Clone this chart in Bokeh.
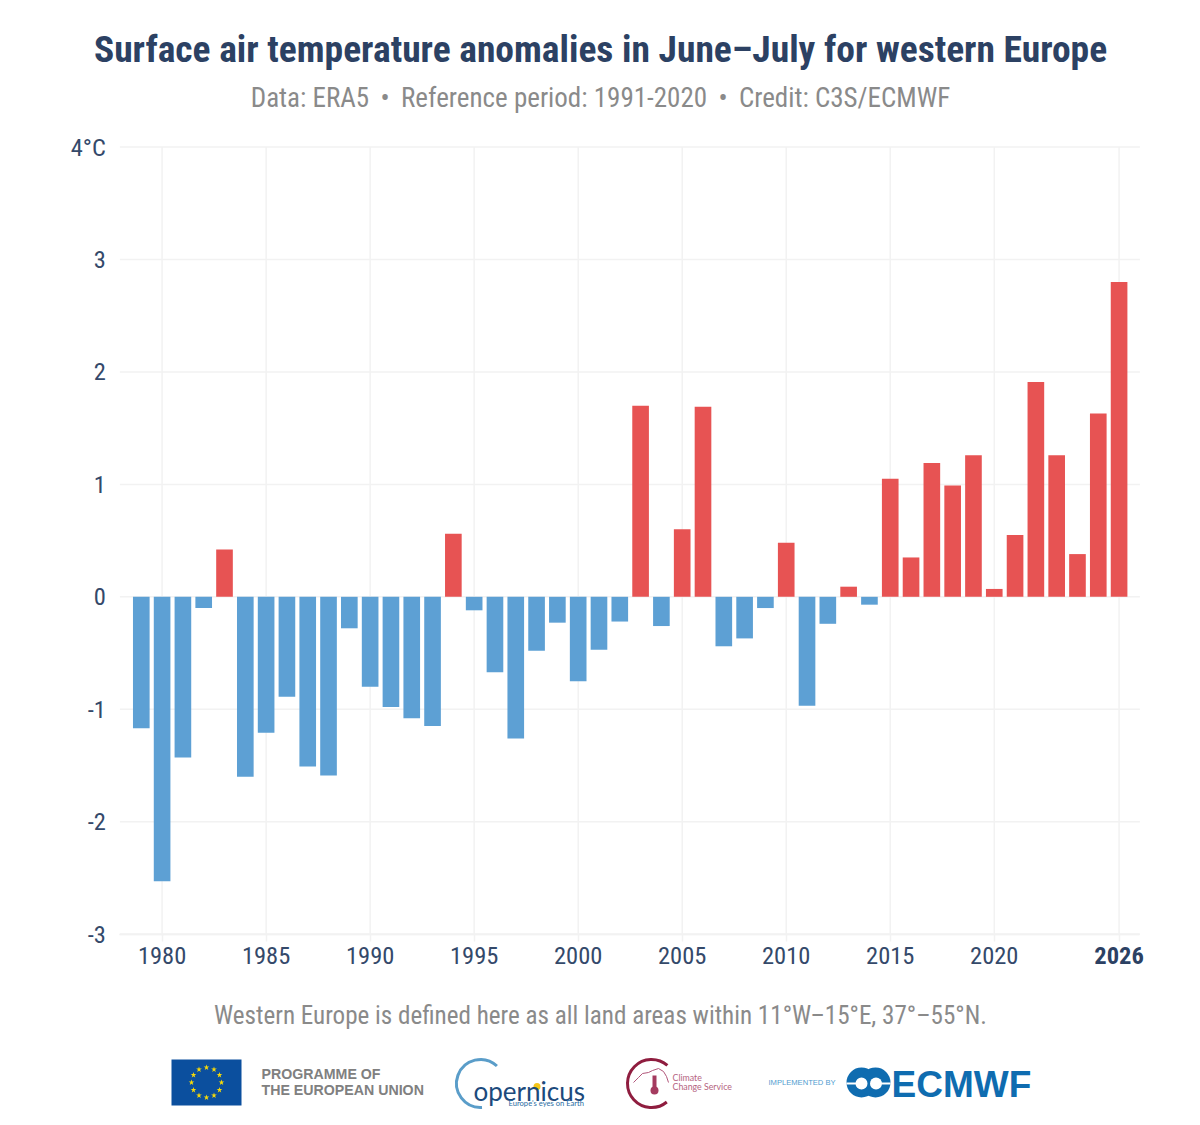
from bokeh.plotting import figure
from bokeh.models import Range1d, FixedTicker, LinearAxis
from bokeh.core.properties import value
from bokeh.embed import file_html
from bokeh.resources import INLINE
import numpy as np

years = list(range(1979, 2027))
anomalies = [-1.17, -2.53, -1.43, -0.10, 0.42, -1.60, -1.21, -0.89, -1.51, -1.59,
             -0.28, -0.80, -0.98, -1.08, -1.15, 0.56, -0.12, -0.67, -1.26, -0.48,
             -0.23, -0.75, -0.47, -0.22, 1.70, -0.26, 0.60, 1.69, -0.44, -0.37,
             -0.10, 0.48, -0.97, -0.24, 0.09, -0.07, 1.05, 0.35, 1.19, 0.99,
             1.26, 0.07, 0.55, 1.91, 1.26, 0.38, 1.63, 2.80]
x_tick_years = [1980, 1985, 1990, 1995, 2000, 2005, 2010, 2015, 2020]
x_last_year = [2026]
y_ticks = [-3, -2, -1, 0, 1, 2, 3, 4]
y_tick_labels = {-3: "-3", -2: "-2", -1: "-1", 0: "0", 1: "1", 2: "2", 3: "3", 4: "4°C"}
title_text = "Surface air temperature anomalies in June–July for western Europe"
subtitle_text = "Data: ERA5 \u2009•\u2009 Reference period: 1991-2020 \u2009•\u2009 Credit: C3S/ECMWF"
footer_text = "Western Europe is defined here as all land areas within 11°W–15°E, 37°–55°N."

FONT = "Roboto Condensed"
NAVY = "#2c4163"
TICK = "#34496a"
GREY = "#8a8a8a"
GRID = "#f2f2f2"
RED = "#e75353"
BLUE = "#5da0d4"

W, H = 1184, 1120
PX_PER_YEAR = 20.804
PX_PER_DEG = 112.43
x0 = 1980 - 161.6 / PX_PER_YEAR
y0 = -3 - (H - 933.6) / PX_PER_DEG
LEFT, RIGHT = 1977.97, 2027.0

p = figure(width=W, height=H, output_backend="svg", toolbar_location=None,
           x_range=Range1d(x0, x0 + W / PX_PER_YEAR), y_range=Range1d(y0, y0 + H / PX_PER_DEG),
           x_axis_type=None, y_axis_type=None, min_border=0, outline_line_color=None)
p.extra_x_ranges["px"] = Range1d(0, W)
p.extra_y_ranges["px"] = Range1d(H, 0)

all_years = x_tick_years + x_last_year
p.segment(x0=all_years, y0=[-3] * len(all_years), x1=all_years, y1=[4] * len(all_years),
          line_color=GRID, line_width=1.5)
p.segment(x0=[LEFT] * len(y_ticks), y0=y_ticks, x1=[RIGHT] * len(y_ticks), y1=y_ticks,
          line_color=GRID, line_width=1.5)

colors = [RED if v > 0 else BLUE for v in anomalies]
p.vbar(x=years, top=anomalies, bottom=0, width=0.8, fill_color=colors, line_color=None)


def xaxis(ticks, style, color):
    return LinearAxis(fixed_location=-3, ticker=FixedTicker(ticks=ticks), bounds=(LEFT, RIGHT),
                      axis_line_color=GRID, axis_line_width=1.5,
                      major_tick_line_color=GRID, major_tick_line_width=1.5,
                      major_tick_in=0, major_tick_out=7, minor_tick_line_color=None,
                      major_label_text_font=FONT, major_label_text_font_size="24.5px",
                      major_label_text_font_style=style, major_label_text_color=color,
                      major_label_standoff=6)


p.add_layout(xaxis(x_tick_years, "normal", TICK), "below")
p.add_layout(xaxis(x_last_year, "bold", NAVY), "below")
p.add_layout(LinearAxis(fixed_location=LEFT, ticker=FixedTicker(ticks=y_ticks),
                        major_label_overrides=y_tick_labels, axis_line_color=None,
                        major_tick_line_color=None, minor_tick_line_color=None,
                        major_label_text_font=FONT, major_label_text_font_size="24.5px",
                        major_label_text_color=TICK, major_label_standoff=8), "left")


def txt(x, y, t, font=FONT, size="22px", color=NAVY, style="normal", align="left"):
    p.text([x], [y], text=[t], text_font=value(font), text_font_size=value(size), text_font_style=value(style),
           text_color=color, text_align=value(align), text_baseline=value("middle"),
           x_range_name="px", y_range_name="px")


txt(600, 48.5, title_text, size="37.5px", style="bold", align="center")
txt(600, 97.5, subtitle_text, size="27px", color=GREY, align="center")
txt(600, 1015, footer_text, size="25.1px", color=GREY, align="center")

PX = dict(x_range_name="px", y_range_name="px")
# EU
p.quad(left=[171], right=[241], top=[1059], bottom=[1105], fill_color="#0b4f9e", line_color=None, **PX)
ang = np.arange(12) * np.pi / 6
p.scatter(206 + 15 * np.cos(ang), 1082 + 15 * np.sin(ang), marker="star", size=6,
          fill_color="#f5d90a", line_color=None, **PX)
txt(261, 1073.5, "PROGRAMME OF", font="Liberation Sans", size="14.2px", style="bold", color="#808080")
txt(261, 1089.5, "THE EUROPEAN UNION", font="Liberation Sans", size="14.2px", style="bold", color="#808080")

# Copernicus
p.arc([480], [1083], radius=24, start_angle=np.pi * 0.26, end_angle=np.pi * 1.52,
      line_color="#5a9dc9", line_width=3, direction="anticlock", **PX)
p.scatter([536.5], [1086], size=7, fill_color="#f5c518", line_color=None, **PX)
txt(473, 1090, "opernicus", font="Lato", size="26px", color="#1c4a7c")
txt(508, 1102.5, "Europe's eyes on Earth", font="Lato", size="7.6px", color="#2a6da3")

# Climate
p.arc([651], [1083], radius=24, start_angle=np.pi * 0.27, end_angle=np.pi * 1.72,
      line_color="#8f1d3f", line_width=3, direction="anticlock", **PX)
p.line([633, 638, 642, 648, 652, 658, 663, 666, 668], [1082, 1077, 1073, 1072, 1070, 1068, 1071, 1076, 1082],
       line_color="#b2567a", line_width=1, **PX)
p.segment([654], [1075], [654], [1089], line_color="#a43b5f", line_width=4, **PX)
p.scatter([654], [1090], size=8, fill_color="#a43b5f", line_color=None, **PX)
txt(672, 1077, "Climate", font="Lato", size="8.8px", color="#b5647f")
txt(672, 1086, "Change Service", font="Lato", size="8.8px", color="#b5647f")

# ECMWF
txt(768, 1082, "IMPLEMENTED BY", font="Liberation Sans", size="7.6px", color="#4f9ccf")
for cx in [861, 875]:
    p.scatter([cx], [1082], size=30, fill_color="#0f6cb0", line_color=None, **PX)
for cx in [861, 875.5]:
    p.scatter([cx], [1083], size=12, fill_color="white", line_color=None, **PX)
p.segment([846, 880], [1083, 1083], [858, 890], [1083, 1083], line_color="white", line_width=2, **PX)
txt(891, 1083.5, "ECMWF", font="Liberation Sans", size="37px", style="bold", color="#0f6cb0")

open("out.html", "w").write(file_html(p, INLINE))
